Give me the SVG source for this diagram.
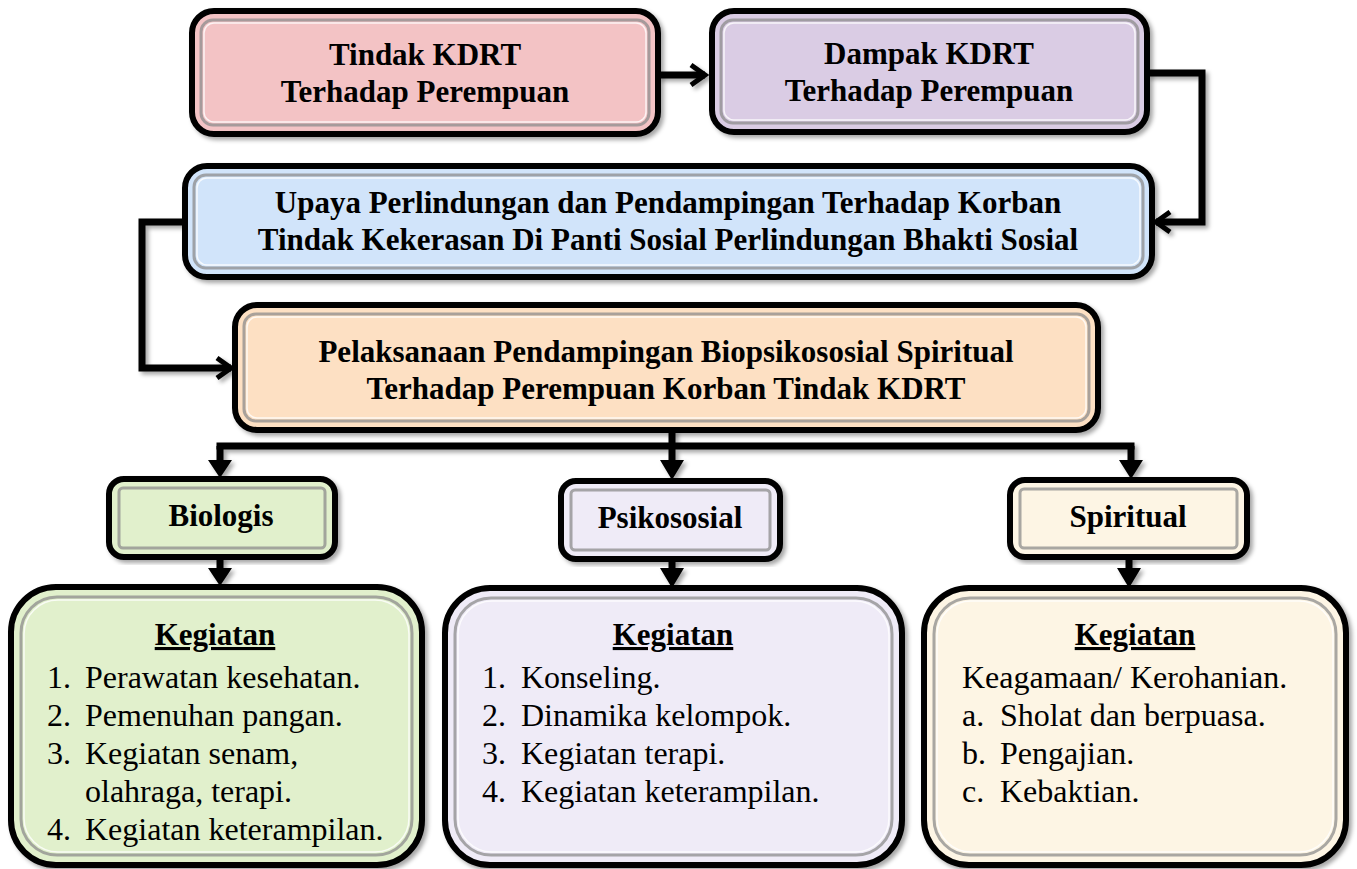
<svg xmlns="http://www.w3.org/2000/svg" width="1357" height="869" viewBox="0 0 1357 869">
<defs>
<filter id="sh" x="-5%" y="-5%" width="112%" height="115%">
<feDropShadow dx="3" dy="3" stdDeviation="2" flood-color="#000" flood-opacity="0.35"/>
</filter>
<marker id="chev" viewBox="0 0 24 24" refX="20" refY="12" markerWidth="24" markerHeight="24" markerUnits="userSpaceOnUse" orient="auto">
<path d="M6,2 L20,12 L6,22" fill="none" stroke="#000" stroke-width="5" stroke-linejoin="miter"/>
</marker>
</defs>
<style>
.outer{stroke:#000;stroke-width:6}
.inner{fill:none;stroke:#8c8c8c;stroke-width:3;opacity:0.75}
.hl{fill:none;stroke:#fff;stroke-width:1.5;opacity:0.8}
.h{font-weight:bold;font-size:31px;fill:#000;text-anchor:middle}
.t{font-size:32px;fill:#000}
.line{fill:none;stroke:#000;stroke-width:7}
.tri{fill:#000}
</style>

<g id="connectors" filter="url(#sh)">
<path class="line" d="M658,75 H705" marker-end="url(#chev)"/>
<path class="line" d="M1147,73 H1202 V222 H1156" marker-end="url(#chev)"/>
<path class="line" d="M185,222 H142 V368 H231" marker-end="url(#chev)"/>
<path class="line" d="M672,430 V446 M216.5,446 H1134.5"/>
<path class="line" d="M220,446 V462 M672,446 V462 M1131,446 V462"/>
<path class="tri" d="M208,460 L232,460 L220,478 Z M660,460 L684,460 L672,480 Z M1119,460 L1143,460 L1131,479 Z"/>
<path class="line" d="M220,557 V570 M672,559 V570 M1129,557 V570"/>
<path class="tri" d="M208,568 L232,568 L220,586 Z M660,568 L684,568 L672,588 Z M1117,568 L1141,568 L1129,588 Z"/>
</g>

<g font-family="Liberation Serif, Times New Roman, DejaVu Serif, serif">
<g id="n1">
<rect class="outer" x="192" y="11" width="466" height="123" rx="22" fill="#f3c3c5" filter="url(#sh)"/>
<rect class="inner" x="201" y="20" width="448" height="105" rx="12"/>
<rect class="hl" x="204" y="23" width="442" height="99" rx="10"/>
<text class="h" x="425" y="65">Tindak KDRT</text>
<text class="h" x="425" y="102">Terhadap Perempuan</text>
</g>

<g id="n2">
<rect class="outer" x="712" y="11" width="435" height="121" rx="22" fill="#dacce4" filter="url(#sh)"/>
<rect class="inner" x="721" y="20" width="417" height="103" rx="12"/>
<rect class="hl" x="724" y="23" width="411" height="97" rx="10"/>
<text class="h" x="929" y="64">Dampak KDRT</text>
<text class="h" x="929" y="101">Terhadap Perempuan</text>
</g>

<g id="n3">
<rect class="outer" x="185" y="166" width="967" height="111" rx="22" fill="#d1e4fa" filter="url(#sh)"/>
<rect class="inner" x="194" y="175" width="949" height="93" rx="12"/>
<rect class="hl" x="197" y="178" width="943" height="87" rx="10"/>
<text class="h" x="668" y="213">Upaya Perlindungan dan Pendampingan Terhadap Korban</text>
<text class="h" x="668" y="250">Tindak Kekerasan Di Panti Sosial Perlindungan Bhakti Sosial</text>
</g>

<g id="n4">
<rect class="outer" x="235" y="305" width="863" height="125" rx="22" fill="#fde0c3" filter="url(#sh)"/>
<rect class="inner" x="244" y="314" width="845" height="107" rx="12"/>
<rect class="hl" x="247" y="317" width="839" height="101" rx="10"/>
<text class="h" x="666" y="362">Pelaksanaan Pendampingan Biopsikososial Spiritual</text>
<text class="h" x="666" y="399">Terhadap Perempuan Korban Tindak KDRT</text>
</g>

<g id="n5">
<rect class="outer" x="109" y="479" width="226" height="78" rx="15" fill="#e1f0cc" filter="url(#sh)"/>
<rect class="inner" x="119" y="488" width="206" height="60" rx="4"/>
<text class="h" x="221" y="526">Biologis</text>
</g>

<g id="n6">
<rect class="outer" x="561" y="481" width="219" height="78" rx="15" fill="#efebf7" filter="url(#sh)"/>
<rect class="inner" x="571" y="490" width="199" height="60" rx="4"/>
<text class="h" x="670" y="528">Psikososial</text>
</g>

<g id="n7">
<rect class="outer" x="1010" y="480" width="237" height="77" rx="15" fill="#fdf5e4" filter="url(#sh)"/>
<rect class="inner" x="1020" y="489" width="217" height="59" rx="4"/>
<text class="h" x="1128" y="527">Spiritual</text>
</g>

<g id="n8">
<rect class="outer" x="11" y="587" width="411" height="278" rx="45" fill="#e1f0cc" filter="url(#sh)"/>
<rect class="inner" x="21" y="597" width="391" height="258" rx="36"/>
<rect class="hl" x="24" y="600" width="385" height="252" rx="34"/>
<text class="h" x="215" y="645" text-decoration="underline">Kegiatan</text>
<text class="t" x="47" y="688">1.</text><text class="t" x="85" y="688">Perawatan kesehatan.</text>
<text class="t" x="47" y="726">2.</text><text class="t" x="85" y="726">Pemenuhan pangan.</text>
<text class="t" x="47" y="764">3.</text><text class="t" x="85" y="764">Kegiatan senam,</text>
<text class="t" x="85" y="802">olahraga, terapi.</text>
<text class="t" x="47" y="840">4.</text><text class="t" x="85" y="840">Kegiatan keterampilan.</text>
</g>

<g id="n9">
<rect class="outer" x="445" y="588" width="457" height="277" rx="45" fill="#efebf7" filter="url(#sh)"/>
<rect class="inner" x="455" y="598" width="437" height="257" rx="36"/>
<rect class="hl" x="458" y="601" width="431" height="251" rx="34"/>
<text class="h" x="673" y="645" text-decoration="underline">Kegiatan</text>
<text class="t" x="482" y="688">1.</text><text class="t" x="521" y="688">Konseling.</text>
<text class="t" x="482" y="726">2.</text><text class="t" x="521" y="726">Dinamika kelompok.</text>
<text class="t" x="482" y="764">3.</text><text class="t" x="521" y="764">Kegiatan terapi.</text>
<text class="t" x="482" y="802">4.</text><text class="t" x="521" y="802">Kegiatan keterampilan.</text>
</g>

<g id="n10">
<rect class="outer" x="924" y="588" width="422" height="277" rx="45" fill="#fdf5e4" filter="url(#sh)"/>
<rect class="inner" x="934" y="598" width="402" height="257" rx="36"/>
<rect class="hl" x="937" y="601" width="396" height="251" rx="34"/>
<text class="h" x="1135" y="645" text-decoration="underline">Kegiatan</text>
<text class="t" x="962" y="688">Keagamaan/ Kerohanian.</text>
<text class="t" x="962" y="726">a.</text><text class="t" x="1000" y="726">Sholat dan berpuasa.</text>
<text class="t" x="962" y="764">b.</text><text class="t" x="1000" y="764">Pengajian.</text>
<text class="t" x="962" y="802">c.</text><text class="t" x="1000" y="802">Kebaktian.</text>
</g>
</g>
</svg>
